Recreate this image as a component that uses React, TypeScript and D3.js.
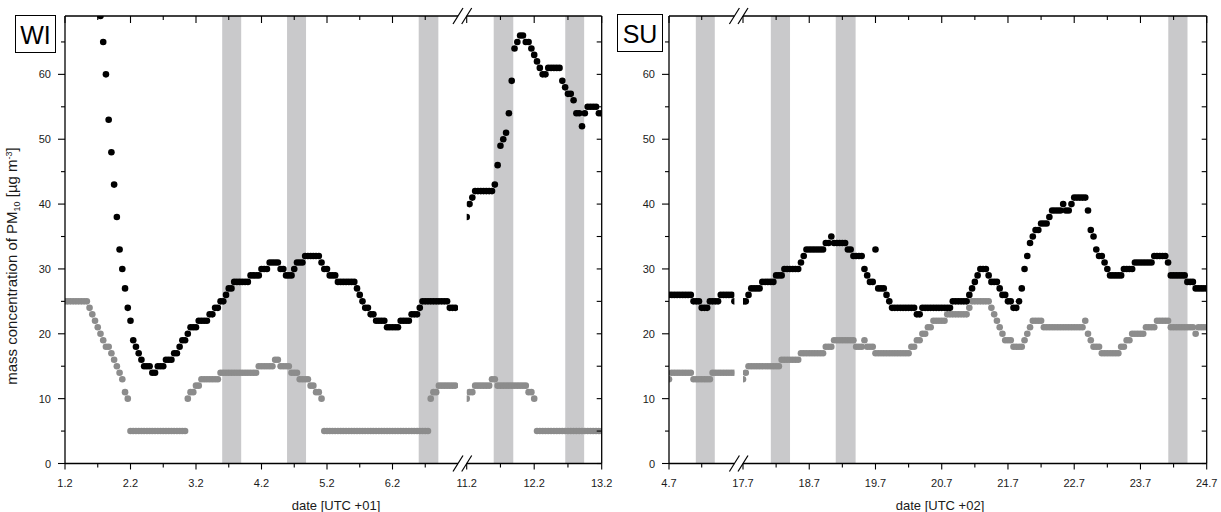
import React from "react";
import * as d3 from "d3";

// Hourly PM10 mass concentrations [µg m-3]; index 0 = 00:00 of the start day.
// Dark series = station 1, light series = station 2.

// Winter campaign, February (UTC+01)
const wiStartA = 1;
const wiDarkA: (number | null)[] = [
  null, null, null, null, null, null, null, null, null, null, null, null, null, 69, 65, 60, 53, 48, 43, 38, 33, 30, 27, 24,
  22, 19, 18, 17, 16, 15, 15, 15, 14, 14, 15, 15, 15, 16, 16, 16, 17, 17, 18, 19, 19, 20, 21, 21,
  21, 22, 22, 22, 22, 23, 23, 24, 24, 25, 25, 26, 27, 27, 28, 28, 28, 28, 28, 28, 29, 29, 29, 29,
  30, 30, 30, 31, 31, 31, 31, 30, 30, 29, 29, 29, 30, 31, 31, 31, 32, 32, 32, 32, 32, 32, 31, 30,
  30, 29, 29, 29, 28, 28, 28, 28, 28, 28, 28, 27, 26, 25, 24, 24, 23, 23, 22, 22, 22, 22, 21, 21,
  21, 21, 21, 22, 22, 22, 22, 23, 23, 23, 24, 25, 25, 25, 25, 25, 25, 25, 25, 25, 25, 24, 24, 24,
];
const wiLightA: (number | null)[] = [
  25, 25, 25, 25, 25, 25, 25, 25, 25, 24, 23, 22, 21, 20, 19, 18, 18, 17, 16, 15, 14, 13, 11, 10,
  5, 5, 5, 5, 5, 5, 5, 5, 5, 5, 5, 5, 5, 5, 5, 5, 5, 5, 5, 5, 5, 10, 11, 11,
  12, 12, 13, 13, 13, 13, 13, 13, 13, 14, 14, 14, 14, 14, 14, 14, 14, 14, 14, 14, 14, 14, 14, 15,
  15, 15, 15, 15, 15, 16, 16, 15, 15, 15, 15, 14, 14, 14, 13, 13, 13, 13, 12, 12, 11, 11, 10, 5,
  5, 5, 5, 5, 5, 5, 5, 5, 5, 5, 5, 5, 5, 5, 5, 5, 5, 5, 5, 5, 5, 5, 5, 5,
  5, 5, 5, 5, 5, 5, 5, 5, 5, 5, 5, 5, 5, 5, 10, 11, 11, 12, 12, 12, 12, 12, 12, 12,
];
const wiStartB = 11;
const wiDarkB: (number | null)[] = [
  38, 40, 41, 42, 42, 42, 42, 42, 42, 42, 43, 46, 49, 50, 51, 54, 59, 64, 65, 66, 66, 65, 65, 64,
  63, 62, 61, 60, 60, 61, 61, 61, 61, 61, 59, 58, 57, 57, 56, 54, 54, 52, 54, 55, 55, 55, 55, 54,
  54,
];
const wiLightB: (number | null)[] = [
  10, 11, 11, 12, 12, 12, 12, 12, 12, 13, 13, 12, 12, 12, 12, 12, 12, 12, 12, 12, 12, 12, 11, 11,
  10, 5, 5, 5, 5, 5, 5, 5, 5, 5, 5, 5, 5, 5, 5, 5, 5, 5, 5, 5, 5, 5, 5, 5,
  5,
];
const wiBandStart = [3.4, 4.39, 6.4, 11.4, 12.46];
const wiBandEnd = [3.69, 4.68, 6.7, 11.69, 12.74];
const wiTicksA = [1, 1.5, 2, 2.5, 3, 3.5, 4, 4.5, 5, 5.5, 6, 6.5];
const wiTicksB = [11, 11.5, 12, 12.5, 13];

// Summer campaign, July (UTC+02)
const suStartA = 4;
const suDarkA: (number | null)[] = [
  26, 26, 26, 26, 26, 26, 26, 26, 26, 25, 25, 25, 24, 24, 24, 25, 25, 25, 25, 26, 26, 26, 26, 26,
  25,
];
const suLightA: (number | null)[] = [
  13, 14, 14, 14, 14, 14, 14, 14, 14, 13, 13, 13, 13, 13, 13, 13, 14, 14, 14, 14, 14, 14, 14, 14,
  14,
];
const suStartB = 17;
const suDarkB: (number | null)[] = [
  25, 25, 26, 27, 27, 27, 27, 28, 28, 28, 28, 28, 29, 29, 29, 30, 30, 30, 30, 30, 30, 31, 32, 33,
  33, 33, 33, 33, 33, 33, 34, 34, 35, 34, 34, 34, 34, 34, 33, 33, 32, 32, 32, 32, 30, 29, 28, 28,
  33, 27, 27, 27, 26, 25, 24, 24, 24, 24, 24, 24, 24, 24, 24, 23, 23, 24, 24, 24, 24, 24, 24, 24,
  24, 24, 24, 24, 25, 25, 25, 25, 25, 25, 26, 27, 28, 29, 30, 30, 30, 29, 28, 28, 28, 27, 26, 26,
  25, 25, 24, 24, 25, 27, 30, 32, 34, 35, 36, 36, 37, 37, 37, 38, 39, 39, 39, 39, 40, 39, 39, 40,
  41, 41, 41, 41, 41, 39, 36, 35, 33, 32, 32, 31, 30, 29, 29, 29, 29, 29, 30, 30, 30, 30, 31, 31,
  31, 31, 31, 31, 31, 32, 32, 32, 32, 32, 31, 29, 29, 29, 29, 29, 29, 28, 28, 28, 27, 27, 27, 27,
  27,
];
const suLightB: (number | null)[] = [
  13, 14, 15, 15, 15, 15, 15, 15, 15, 15, 15, 15, 15, 15, 16, 16, 16, 16, 16, 16, 16, 17, 17, 17,
  17, 17, 17, 17, 17, 17, 18, 18, 18, 19, 19, 19, 19, 19, 19, 19, 19, 18, 18, 18, 19, 18, 18, 18,
  17, 17, 17, 17, 17, 17, 17, 17, 17, 17, 17, 17, 17, 18, 18, 19, 19, 20, 20, 21, 21, 22, 22, 22,
  22, 22, 23, 23, 23, 23, 23, 23, 23, 23, 24, 25, 25, 25, 25, 25, 25, 25, 24, 23, 22, 21, 20, 19,
  19, 19, 18, 18, 18, 18, 19, 20, 21, 22, 22, 22, 22, 21, 21, 21, 21, 21, 21, 21, 21, 21, 21, 21,
  21, 21, 21, 21, 22, 20, 19, 18, 18, 18, 17, 17, 17, 17, 17, 17, 17, 18, 18, 19, 19, 20, 20, 20,
  20, 20, 21, 21, 21, 21, 22, 22, 22, 22, 22, 21, 21, 21, 21, 21, 21, 21, 21, 21, 20, 21, 21, 21,
  21,
];
const suBandStart = [4.41, 17.42, 18.4, 23.42];
const suBandEnd = [4.7, 17.71, 18.7, 23.71];
const suTicksA = [4, 4.5];
const suTicksB = [17, 17.5, 18, 18.5, 19, 19.5, 20, 20.5, 21, 21.5, 22, 22.5, 23, 23.5, 24];

const yTicks = [0, 5, 10, 15, 20, 25, 30, 35, 40, 45, 50, 55, 60, 65];

const FONT = '"Liberation Sans", Arial, Helvetica, sans-serif';
const TOP = 16;
const BOTTOM = 463.5;
const DARK = "#000000";
const LIGHT = "#8c8c8c";
const BAND = "#c9c9cb";
const R = 3.3;

const y = d3.scaleLinear().domain([0, 69]).range([BOTTOM, TOP]);

type Series = { start: number; values: (number | null)[]; color: string };
type Seg = {
  id: string;
  x: d3.ScaleLinear<number, number>;
  lo: number;
  hi: number;
  ticks: number[];
  series: Series[];
};
type PanelDef = {
  key: string;
  left: number;
  right: number;
  month: number;
  segs: Seg[];
  bandStart: number[];
  bandEnd: number[];
  tag: string;
  tagBox: { x: number; y: number; w: number; h: number };
  title: string;
  titleX: number;
};

function seg(
  id: string,
  d0: number,
  d1: number,
  x0: number,
  x1: number,
  ticks: number[],
  series: Series[]
): Seg {
  const x = d3.scaleLinear().domain([d0, d1]).range([x0, x1]);
  return { id, x, lo: x0, hi: x1, ticks, series };
}

const panels: PanelDef[] = [
  {
    key: "wi",
    left: 65,
    right: 601.7,
    month: 2,
    segs: [
      seg("wiA", 1, 7, 65, 458, wiTicksA, [
        { start: wiStartA, values: wiLightA, color: LIGHT },
        { start: wiStartA, values: wiDarkA, color: DARK },
      ]),
      seg("wiB", 11, 13, 466.7, 601.7, wiTicksB, [
        { start: wiStartB, values: wiLightB, color: LIGHT },
        { start: wiStartB, values: wiDarkB, color: DARK },
      ]),
    ],
    bandStart: wiBandStart,
    bandEnd: wiBandEnd,
    tag: "WI",
    tagBox: { x: 15.5, y: 15.5, w: 40, h: 37 },
    title: "date [UTC +01]",
    titleX: 336,
  },
  {
    key: "su",
    left: 669,
    right: 1206.7,
    month: 7,
    segs: [
      seg("suA", 4, 5, 669, 734.4, suTicksA, [
        { start: suStartA, values: suLightA, color: LIGHT },
        { start: suStartA, values: suDarkA, color: DARK },
      ]),
      seg("suB", 17, 24, 743, 1206.7, suTicksB, [
        { start: suStartB, values: suLightB, color: LIGHT },
        { start: suStartB, values: suDarkB, color: DARK },
      ]),
    ],
    bandStart: suBandStart,
    bandEnd: suBandEnd,
    tag: "SU",
    tagBox: { x: 617.5, y: 14.5, w: 45, h: 37 },
    title: "date [UTC +02]",
    titleX: 940,
  },
];

function Slash({ cx, cy }: { cx: number; cy: number }) {
  return <line x1={cx - 5} y1={cy + 8} x2={cx + 5} y2={cy - 8} stroke="#000" strokeWidth={1.2} />;
}

function Panel({ p }: { p: PanelDef }) {
  const [a, b] = p.segs;
  const gapL = a.hi;
  const gapR = b.lo;
  const axisStroke = { stroke: "#000", strokeWidth: 1.3 };
  return (
    <g>
      <defs>
        {p.segs.map((s) => (
          <clipPath id={`clip-${s.id}`} key={s.id}>
            <rect x={s.lo} y={TOP} width={s.hi - s.lo} height={BOTTOM - TOP} />
          </clipPath>
        ))}
      </defs>

      {p.segs.map((s) => {
        const [d0, d1] = s.x.domain();
        return (
          <g key={s.id} clipPath={`url(#clip-${s.id})`}>
            {p.bandStart.map((bs, i) =>
              bs >= d0 && bs <= d1 ? (
                <rect
                  key={i}
                  x={s.x(bs)}
                  y={TOP}
                  width={s.x(p.bandEnd[i]) - s.x(bs)}
                  height={BOTTOM - TOP}
                  fill={BAND}
                />
              ) : null
            )}
            {s.series.map((ser, si) => (
              <g key={si} fill={ser.color}>
                {ser.values.map((v, i) =>
                  v == null ? null : (
                    <circle key={i} cx={s.x(ser.start + i / 24)} cy={y(v)} r={R} />
                  )
                )}
              </g>
            ))}
          </g>
        );
      })}

      {/* frame */}
      <line x1={p.left} y1={TOP} x2={p.left} y2={BOTTOM} {...axisStroke} />
      <line x1={p.right} y1={TOP} x2={p.right} y2={BOTTOM} {...axisStroke} />
      <line x1={p.left} y1={BOTTOM} x2={gapL} y2={BOTTOM} {...axisStroke} />
      <line x1={gapR} y1={BOTTOM} x2={p.right} y2={BOTTOM} {...axisStroke} />
      <line x1={p.left} y1={TOP} x2={gapL} y2={TOP} {...axisStroke} />
      <line x1={gapR} y1={TOP} x2={p.right} y2={TOP} {...axisStroke} />
      <Slash cx={gapL} cy={TOP} />
      <Slash cx={gapR} cy={TOP} />
      <Slash cx={gapL} cy={BOTTOM} />
      <Slash cx={gapR} cy={BOTTOM} />

      {/* x ticks */}
      {p.segs.map((s) =>
        s.ticks.map((t) => {
          const major = Number.isInteger(t);
          const xx = s.x(t);
          return (
            <g key={`${s.id}-${t}`}>
              <line x1={xx} y1={BOTTOM} x2={xx} y2={BOTTOM + (major ? 6 : 4)} stroke="#000" strokeWidth={1.1} />
              <line x1={xx} y1={TOP} x2={xx} y2={TOP + (major ? 7 : 4)} stroke="#000" strokeWidth={1.1} />
              {major ? (
                <text x={xx} y={487} textAnchor="middle" fontSize={11} fontFamily={FONT} fill="#1a1a1a">
                  {`${t}.${p.month}`}
                </text>
              ) : null}
            </g>
          );
        })
      )}

      {/* y ticks */}
      {yTicks.map((t) => {
        const major = t % 10 === 0;
        const yy = y(t);
        return (
          <g key={t}>
            <line x1={p.left - (major ? 7 : 4)} y1={yy} x2={p.left} y2={yy} stroke="#000" strokeWidth={1.1} />
            <line x1={p.right - 5} y1={yy} x2={p.right} y2={yy} stroke="#000" strokeWidth={1.1} />
            {major ? (
              <text x={p.left - 14} y={yy + 4} textAnchor="end" fontSize={11} fontFamily={FONT} fill="#1a1a1a">
                {t}
              </text>
            ) : null}
          </g>
        );
      })}

      {/* campaign tag */}
      <rect
        x={p.tagBox.x}
        y={p.tagBox.y}
        width={p.tagBox.w}
        height={p.tagBox.h}
        fill="#fff"
        stroke="#000"
        strokeWidth={1}
      />
      <text
        x={p.tagBox.x + p.tagBox.w / 2}
        y={p.tagBox.y + 28}
        textAnchor="middle"
        fontSize={25}
        fontFamily={FONT}
        fill="#000"
      >
        {p.tag}
      </text>

      <text x={p.titleX} y={510} textAnchor="middle" fontSize={13} fontFamily={FONT} fill="#1a1a1a">
        {p.title}
      </text>
    </g>
  );
}

export default function App() {
  return (
    <svg
      width={1221}
      height={512}
      viewBox="0 0 1221 512"
      style={{ position: "absolute", left: 0, top: 0, background: "#fff" }}
    >
      <rect x={0} y={0} width={1221} height={512} fill="#fff" />
      {panels.map((p) => (
        <Panel key={p.key} p={p} />
      ))}
      <text
        transform="translate(17,266) rotate(-90)"
        textAnchor="middle"
        fontSize={15}
        fontFamily={FONT}
        fill="#1a1a1a"
      >
        mass concentration of PM
        <tspan dy={3} fontSize={9}>10</tspan>
        <tspan dy={-3}> [µg m</tspan>
        <tspan dy={-5.5} fontSize={9}>-3</tspan>
        <tspan dy={5.5}>]</tspan>
      </text>
    </svg>
  );
}
